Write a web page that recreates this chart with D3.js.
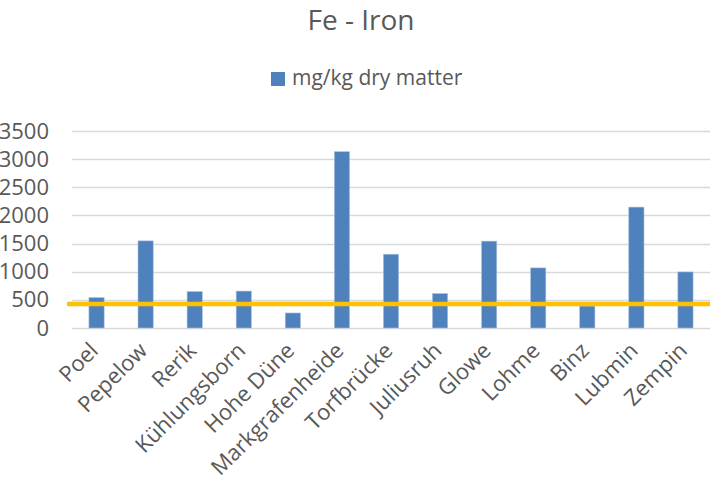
<!DOCTYPE html>
<html>
<head>
<meta charset="utf-8">
<script src="https://d3js.org/d3.v7.min.js"></script>
<style>
  body { margin: 0; background: #fff; }
  text { font-family: "Open Sans", "Noto Sans", sans-serif; fill: #595959; }
</style>
</head>
<body>
<div id="chart"></div>
<script>
const sites = ['Poel', 'Pepelow', 'Rerik', 'Kühlungsborn', 'Hohe Düne', 'Markgrafenheide',
  'Torfbrücke', 'Juliusruh', 'Glowe', 'Lohme', 'Binz', 'Lubmin', 'Zempin'];
const ironValues = [541, 1548, 648, 656, 267, 3132, 1311, 612, 1543, 1068, 390, 2148, 996];
const yTicks = [0, 500, 1000, 1500, 2000, 2500, 3000, 3500];
const referenceLevel = [427];

const width = 713, height = 481;
const margins = { top: 131, bottom: 153, left: 72, right: 3 };

const svg = d3.select('#chart')
  .append('svg')
  .attr('width', width)
  .attr('height', height);

const xScale = d3.scaleBand()
  .domain(sites)
  .range([margins.left, width - margins.right])
  .paddingInner(0.69)
  .paddingOuter(0.345);

const yScale = d3.scaleLinear()
  .domain([0, 3500])
  .range([height - margins.bottom, margins.top]);

// gridlines
svg.append('g')
  .selectAll('line')
  .data(yTicks)
  .enter()
  .append('line')
  .attr('x1', margins.left)
  .attr('x2', width - margins.right)
  .attr('y1', function(d) { return Math.round(yScale(d)) + 0.5; })
  .attr('y2', function(d) { return Math.round(yScale(d)) + 0.5; })
  .style('stroke', '#d9d9d9')
  .style('stroke-width', 1.3);

// y axis labels
const yAxis = d3.axisLeft(yScale)
  .tickValues(yTicks)
  .tickFormat(d3.format('d'))
  .tickSize(0)
  .tickPadding(23);

const yG = svg.append('g')
  .attr('transform', 'translate(' + margins.left + ',0)')
  .call(yAxis);
yG.select('.domain').remove();
yG.selectAll('text')
  .style('font-size', '22px')
  .style('fill', '#595959');

// bars
svg.append('g')
  .selectAll('rect')
  .data(ironValues)
  .enter()
  .append('rect')
  .attr('x', function(d, i) { return xScale(sites[i]); })
  .attr('width', xScale.bandwidth())
  .attr('y', function(d) { return yScale(d); })
  .attr('height', function(d) { return yScale(0) - yScale(d); })
  .style('fill', '#4f81bd')
  .style('stroke', '#a9c1e0')
  .style('stroke-width', 0.6);

// x axis
const xAxis = d3.axisBottom(xScale).tickSize(0).tickPadding(0);
const xG = svg.append('g')
  .attr('transform', 'translate(0,' + yScale(0) + ')')
  .call(xAxis);
xG.select('.domain').remove();
xG.selectAll('text')
  .style('font-size', '22px')
  .style('fill', '#595959')
  .style('text-anchor', 'end')
  .attr('y', 0)
  .attr('dy', 0)
  .attr('transform', 'translate(3,24) rotate(-45)');

// reference line
svg.append('g')
  .selectAll('line')
  .data(referenceLevel)
  .enter()
  .append('line')
  .attr('x1', margins.left - 5)
  .attr('x2', width - margins.right)
  .attr('y1', function(d) { return yScale(d); })
  .attr('y2', function(d) { return yScale(d); })
  .style('stroke', '#ffc000')
  .style('stroke-width', 4.5);

// title
svg.append('text')
  .text('Fe - Iron')
  .attr('x', 361)
  .attr('y', 30)
  .style('text-anchor', 'middle')
  .style('font-size', '28px');

// legend
const legend = svg.append('g').attr('transform', 'translate(271,72)');
legend.append('rect')
  .attr('width', 14)
  .attr('height', 14)
  .style('fill', '#4f81bd');
legend.append('text')
  .text('mg/kg dry matter')
  .attr('x', 21)
  .attr('y', 13)
  .style('font-size', '21px');
</script>
</body>
</html>
